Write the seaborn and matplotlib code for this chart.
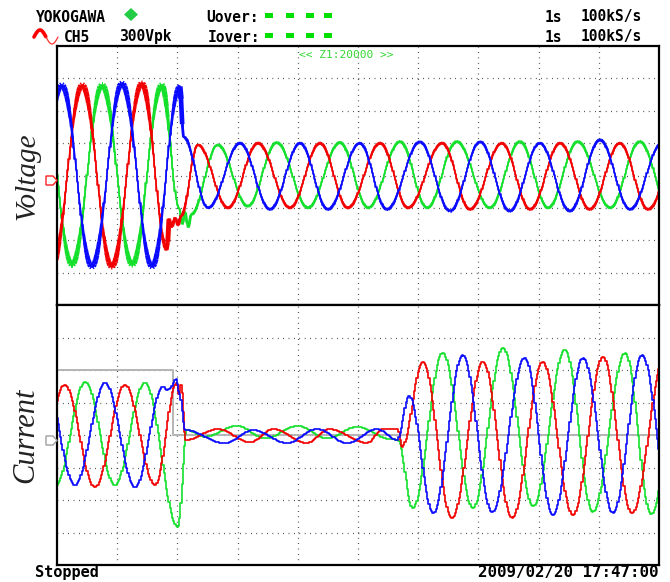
import numpy as np
import pandas as pd
import matplotlib
matplotlib.use("Agg")
import matplotlib.pyplot as plt
import seaborn as sns
from matplotlib.collections import LineCollection
from matplotlib.patches import Polygon, Rectangle

# ---------------- data (screen divisions, read from the capture) ----------------
# time axis: 0..10 divisions ; value axis: -4..4 divisions per panel
# Extrema / turning points of every trace (time, value)
volt_blue_t = [-0.42, 0.08, 0.58, 1.08, 1.58, 2.04, 2.10, 2.51, 3.04, 3.54, 4.04, 4.50, 5.03, 5.48,
               6.03, 6.53, 7.03, 7.52, 8.02, 8.52, 9.02, 9.52, 10.05]
volt_blue_v = [-2.8, 2.8, -2.82, 2.85, -2.82, 2.75, 1.2, -1.0, 1.0, -1.05, 1.0, -1.05, 1.0, -1.05,
               1.04, -1.1, 1.04, -1.1, 1.0, -1.1, 1.1, -1.05, 1.0]
volt_red_t = [-0.08, 0.42, 0.91, 1.41, 1.83, 1.86, 1.91, 1.96, 2.01, 2.06, 2.34, 2.84, 3.34, 3.87,
              4.37, 4.83, 5.37, 5.83, 6.40, 6.86, 7.39, 7.86, 8.36, 8.85, 9.35, 9.82, 10.35]
volt_red_v = [-2.8, 2.8, -2.82, 2.85, -2.3, -1.35, -1.6, -1.3, -1.55, -1.25, 0.95, -1.0, 1.0, -1.0,
              1.0, -1.0, 1.0, -1.0, 1.0, -1.05, 1.0, -1.05, 1.0, -1.05, 1.0, -1.05, 1.0]
volt_green_t = [-0.25, 0.25, 0.75, 1.25, 1.74, 2.03, 2.08, 2.13, 2.18, 2.23, 2.67, 3.17, 3.65, 4.17,
                4.70, 5.17, 5.70, 6.15, 6.64, 7.19, 7.69, 8.16, 8.65, 9.19, 9.68, 10.18]
volt_green_v = [2.8, -2.76, 2.8, -2.76, 2.8, -1.0, -1.5, -1.1, -1.6, -1.2, 0.95, -0.95, 1.02, -1.0,
                1.02, -1.0, 1.05, -1.0, 1.05, -1.0, 1.05, -1.0, 1.05, -1.0, 1.05, -1.0]

curr_red_t = [-0.37, 0.13, 0.63, 1.13, 1.63, 1.99, 2.03, 2.06, 2.14, 2.67, 3.21, 3.59, 4.15, 4.53,
              5.15, 5.42, 5.66, 5.73, 6.08, 6.56, 7.08, 7.56, 8.07, 8.57, 9.07, 9.55, 10.10]
curr_red_v = [-1.55, 1.54, -1.6, 1.54, -1.54, 1.6, 1.2, 1.55, -0.15, 0.18, -0.22, 0.18, -0.24, 0.18,
              -0.24, 0.18, 0.18, -0.36, 2.25, -2.55, 2.25, -2.55, 2.25, -2.46, 2.4, -2.4, 2.4]
curr_green_t = [-0.50, -0.02, 0.47, 0.96, 1.46, 2.01, 2.16, 2.46, 2.99, 3.46, 4.00, 4.49, 4.98, 5.56,
                5.66, 5.91, 6.41, 6.91, 7.41, 7.91, 8.44, 8.90, 9.44, 9.87, 10.40]
curr_green_v = [1.6, -1.54, 1.63, -1.54, 1.6, -2.83, 0.15, -0.05, 0.28, -0.1, 0.28, -0.1, 0.25, -0.13,
                -0.15, -2.25, 2.52, -2.25, 2.68, -2.2, 2.62, -2.37, 2.52, -2.43, 2.5]
curr_blue_t = [-0.20, 0.30, 0.80, 1.30, 1.76, 1.84, 1.91, 1.98, 2.03, 2.13, 2.79, 3.26, 3.82, 4.32,
               4.82, 5.32, 5.65, 5.85, 6.25, 6.74, 7.23, 7.77, 8.24, 8.74, 9.24, 9.72, 10.22]
curr_blue_v = [1.6, -1.54, 1.6, -1.6, 1.48, 1.38, 1.5, 1.72, 1.3, 0.15, -0.25, 0.15, -0.25, 0.18,
               -0.25, 0.18, -0.15, 1.2, -2.4, 2.46, -2.37, 2.37, -2.46, 2.37, -2.4, 2.46, -2.4]

# logic (gray) channel in the current panel
logic_t = [0.0, 1.93, 1.93, 10.0]
logic_v = [2.0, 2.0, 0.0, 0.0]

header_row1 = ["YOKOGAWA", "Uover:", "1s", "100kS/s"]
header_row2 = ["CH5", "300Vpk", "Iover:", "1s", "100kS/s"]
zoom_label = "<< Z1:20000 >>"
status_label = "Stopped"
stamp_label = "2009/02/20 17:47:00"
panel_labels = ["Voltage", "Current"]

RED, GREEN, BLUE = "#f20000", "#14e02c", "#0a0aff"

# ---------------- helpers ----------------
def smooth(tk, vk, grid):
    """smooth half-cosine line through the read turning points"""
    tk = np.asarray(tk, float); vk = np.asarray(vk, float)
    i = np.clip(np.searchsorted(tk, grid) - 1, 0, len(tk) - 2)
    s = np.clip((grid - tk[i]) / (tk[i + 1] - tk[i]), 0, 1)
    y = vk[i] + (vk[i + 1] - vk[i]) * (1 - np.cos(np.pi * s)) / 2
    amp = np.maximum(np.abs(vk[i]), np.abs(vk[i + 1]))
    return y, amp

W, H = 670, 582
fig = plt.figure(figsize=(W / 100, H / 100), dpi=100)
sns.set_theme(style="white")
plt.rcParams["font.family"] = ["DejaVu Sans", "DejaVu Sans Mono"]
fig.patch.set_facecolor("white")

def px_ax(x0, y0, x1, y1):
    return fig.add_axes([x0 / W, 1 - y1 / H, (x1 - x0) / W, (y1 - y0) / H])

axV = px_ax(57, 46, 659, 305)
axI = px_ax(57, 305, 659, 565)

grid = np.arange(-0.02, 10.03, 0.02)

for ax in (axV, axI):
    ax.set_xlim(0, 10)
    ax.set_ylim(-4, 4)
    ax.set_facecolor("white")
    for k in range(1, 10):
        ax.axvline(k, color="#222222", lw=0.9, ls=(0, (0.6, 3.7)), zorder=0.5)
    for k in range(-3, 4):
        ax.axhline(k, color="#222222", lw=0.9, ls=(0, (0.6, 3.7)), zorder=0.5)
    ax.set_xticks([]); ax.set_yticks([])
    for sp in ax.spines.values():
        sp.set_color("black"); sp.set_linewidth(1.6); sp.set_visible(True)
    ax.set_xlabel(""); ax.set_ylabel("")

# ---------------- voltage panel ----------------
volt = [(volt_green_t, volt_green_v, GREEN), (volt_red_t, volt_red_v, RED), (volt_blue_t, volt_blue_v, BLUE)]
for tk, vk, col in volt:
    y, amp = smooth(tk, vk, grid)
    df = pd.DataFrame({"t": grid, "v": y})
    sns.lineplot(data=df, x="t", y="v", ax=axV, color=col, lw=1.1, estimator=None, sort=False,
                 drawstyle="steps-mid", zorder=2)
    rel = np.clip(np.abs(y) / np.maximum(amp, 1e-6), 0, 1)
    big = amp > 2.0
    lw = np.where(big, 0.9 + 3.3 * rel ** 2, 0.9 + 1.4 * rel ** 2)
    pts = np.column_stack([grid, y]).reshape(-1, 1, 2)
    segs = np.concatenate([pts[:-1], pts[1:]], axis=1)
    lc = LineCollection(segs, colors=col, linewidths=lw[:-1], capstyle="butt", zorder=2)
    axV.add_collection(lc)

# ---------------- current panel ----------------
dfl = pd.DataFrame({"t": logic_t, "v": logic_v})
sns.lineplot(data=dfl, x="t", y="v", ax=axI, color="#b4b4b4", lw=1.4, estimator=None, sort=False, zorder=1)
curr = [(curr_green_t, curr_green_v, GREEN), (curr_red_t, curr_red_v, RED), (curr_blue_t, curr_blue_v, BLUE)]
for tk, vk, col in curr:
    y, amp = smooth(tk, vk, grid)
    df = pd.DataFrame({"t": grid, "v": y})
    sns.lineplot(data=df, x="t", y="v", ax=axI, color=col, lw=1.2, estimator=None, sort=False,
                 drawstyle="steps-mid", zorder=2)

for ax in (axV, axI):
    ax.set_xlabel(""); ax.set_ylabel("")
    ax.set_xlim(0, 10); ax.set_ylim(-4, 4)

# ---------------- texts ----------------
def ftext(x, y, s, **kw):
    fig.text(x / W, 1 - y / H, s, **kw)

mono = dict(family="DejaVu Sans Mono", fontsize=10.5, weight="bold", color="black", va="center", ha="left")
ftext(36, 17, header_row1[0], **mono)
ftext(206, 17, header_row1[1], **mono)
ftext(545, 17, header_row1[2], **mono)
ftext(581, 17, header_row1[3], **mono)
ftext(64, 37, header_row2[0], **mono)
ftext(119, 37, header_row2[1], **mono)
ftext(208, 37, header_row2[2], **mono)
ftext(545, 37, header_row2[3], **mono)
ftext(581, 37, header_row2[4], **mono)

ftext(346, 55, zoom_label, family="DejaVu Sans Mono", fontsize=8, color="#33d633", va="center", ha="center")
ftext(35, 573, status_label, family="DejaVu Sans Mono", fontsize=11, weight="bold", color="black",
      va="center", ha="left")
ftext(659, 573, stamp_label, family="DejaVu Sans Mono", fontsize=11.3, weight="bold", color="black",
      va="center", ha="right")

ftext(27, 176, panel_labels[0], family="Liberation Serif", style="italic", fontsize=21, color="#222222",
      rotation=90, va="center", ha="center")
ftext(26, 435, panel_labels[1], family="Liberation Serif", style="italic", fontsize=22, color="#222222",
      rotation=90, va="center", ha="center")

# header decorations (pixel coordinates)
def to_fig(pts):
    return [(x / W, 1 - y / H) for x, y in pts]

fig.patches.append(Polygon(to_fig([(131, 8), (138, 14.5), (131, 21), (124, 14.5)]), closed=True,
                           transform=fig.transFigure, facecolor="#22cc44", edgecolor="none"))
for yc in (15, 35):
    for x0 in (265, 286, 306, 324):
        fig.patches.append(Rectangle((x0 / W, 1 - (yc + 2.5) / H), 8 / W, 5 / H, transform=fig.transFigure,
                                     facecolor="#00e000", edgecolor="none"))
# red sine icon
s_t = np.linspace(0, 1, 60)
ix = 34 + 24 * s_t
iy = 37 - 7 * np.sin(2 * np.pi * s_t)
half = s_t <= 0.5
fig.lines.append(plt.Line2D(ix[half] / W, 1 - iy[half] / H, transform=fig.transFigure, color="#ff0000", lw=2.6))
fig.lines.append(plt.Line2D(ix[~half] / W, 1 - iy[~half] / H, transform=fig.transFigure, color="#ff3030", lw=0.9))

# ground markers
fig.patches.append(Polygon(to_fig([(46, 176), (53, 176), (57, 180.5), (53, 185), (46, 185)]), closed=True,
                           transform=fig.transFigure, facecolor="white", edgecolor="#ff2020", lw=1.0))
fig.patches.append(Polygon(to_fig([(46, 436), (53, 436), (57, 440.5), (53, 445), (46, 445)]), closed=True,
                           transform=fig.transFigure, facecolor="white", edgecolor="#a0a0a0", lw=1.0))

fig.savefig("out.png", dpi=100, facecolor="white")
